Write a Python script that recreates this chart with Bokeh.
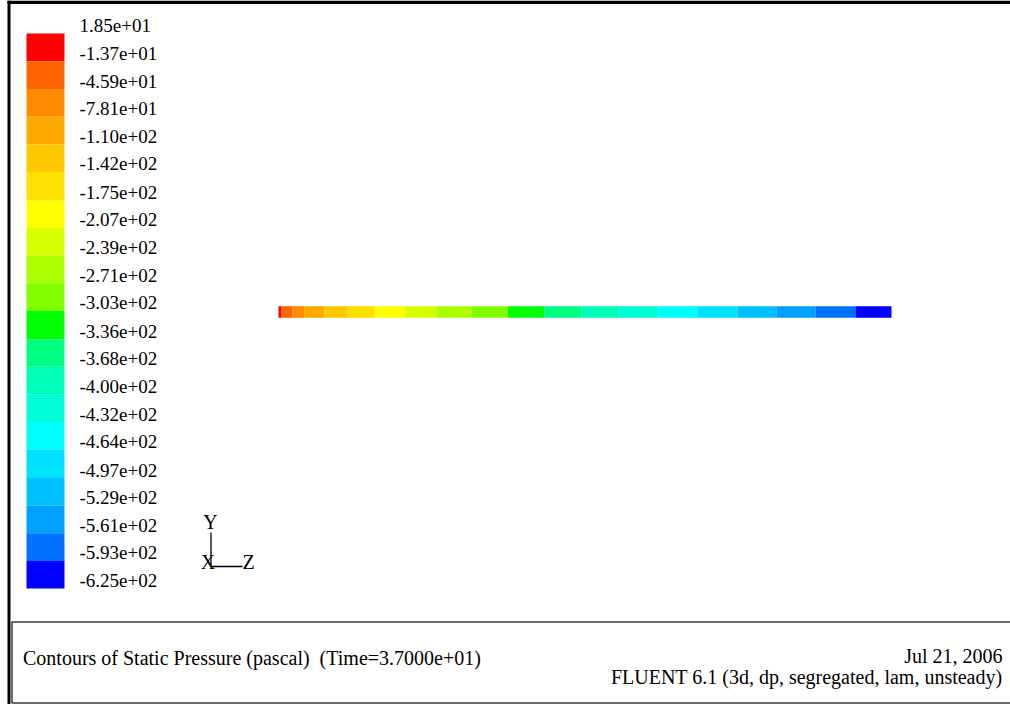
from bokeh.plotting import figure
from bokeh.models import Range1d, ColumnDataSource
from bokeh.transform import linear_cmap
from bokeh.core.properties import value
from bokeh.embed import file_html
from bokeh.resources import INLINE

# ---------------- data ----------------
# contour level boundaries (Pa), top to bottom of the colour scale
levels = [18.5, -13.7, -45.9, -78.1, -110, -142, -175, -207, -239, -271, -303,
          -336, -368, -400, -432, -464, -497, -529, -561, -593, -625]
level_labels = ["1.85e+01", "-1.37e+01", "-4.59e+01", "-7.81e+01", "-1.10e+02",
                "-1.42e+02", "-1.75e+02", "-2.07e+02", "-2.39e+02", "-2.71e+02",
                "-3.03e+02", "-3.36e+02", "-3.68e+02", "-4.00e+02", "-4.32e+02",
                "-4.64e+02", "-4.97e+02", "-5.29e+02", "-5.61e+02", "-5.93e+02",
                "-6.25e+02"]
# Fluent-like palette, lowest pressure first
palette = ["#0000FF", "#0070FF", "#00A0FF", "#00C0FF", "#00E0FF", "#00FFFF",
           "#00FFD8", "#00FFB8", "#00FF80", "#00FF00", "#80FF00", "#AAFF00",
           "#D8FF00", "#FFFF00", "#FFE000", "#FFC800", "#FFAA00", "#FF8C00",
           "#FF6400", "#FF0000"]

# axial stations along the pipe (fraction of pipe length) bounding each contour band
station_z = [0.0, 0.005, 0.023, 0.042, 0.075, 0.113, 0.157, 0.206, 0.258, 0.315,
             0.374, 0.434, 0.494, 0.555, 0.620, 0.684, 0.749, 0.812, 0.876, 0.941, 1.0]
# static pressure (Pa) of each band between stations
segment_pressure = [2, -30, -62, -94, -126, -159, -191, -223, -255, -287,
                    -320, -352, -384, -416, -448, -481, -513, -545, -577, -609]
pipe_diameter = 0.019

title_text = "Contours of Static Pressure (pascal)\u00a0 (Time=3.7000e+01)"
date_text = "Jul 21, 2006"
solver_text = "FLUENT 6.1 (3d, dp, segregated, lam, unsteady)"

# ---------------- layout constants (pixels) ----------------
W, H = 1010, 704
FONT = "Liberation Serif"
pipe_x0_px, pipe_len_px, pipe_cy_px = 278, 613, 311.5
cb_top_px, cb_bot_px = 33, 588
cb_left, cb_right, cb_label_x = 26, 64, 79

p = figure(width=W, height=H, output_backend="svg", toolbar_location=None,
           x_axis_type=None, y_axis_type=None, min_border=0,
           x_range=Range1d(0, W), y_range=Range1d(H, 0),
           outline_line_color=None, background_fill_color="white",
           border_fill_color="white")

# model-space ranges for the pipe (equal aspect)
s = pipe_len_px  # px per unit length
p.extra_x_ranges = {"z": Range1d(-pipe_x0_px / s, (W - pipe_x0_px) / s)}
p.extra_y_ranges = {
    "r": Range1d(-(H - pipe_cy_px) / s, pipe_cy_px / s),
    "cb": Range1d(
        levels[-1] - (H - cb_bot_px) * (levels[0] - levels[-1]) / (cb_bot_px - cb_top_px),
        levels[0] + cb_top_px * (levels[0] - levels[-1]) / (cb_bot_px - cb_top_px)),
}

lo, hi = levels[-1], levels[0]
cmap = linear_cmap("p", palette, low=lo, high=hi)

# pipe contour bands
pipe_src = ColumnDataSource(dict(
    left=station_z[:-1], right=station_z[1:],
    p=segment_pressure))
p.quad(left="left", right="right", bottom=-pipe_diameter / 2, top=pipe_diameter / 2,
       source=pipe_src, fill_color=cmap, line_color=None,
       x_range_name="z", y_range_name="r")

# colour scale
cb_src = ColumnDataSource(dict(
    top=levels[:-1], bottom=levels[1:],
    p=[(a + b) / 2 for a, b in zip(levels[:-1], levels[1:])]))
p.quad(left=cb_left, right=cb_right, top="top", bottom="bottom", source=cb_src,
       fill_color=cmap, line_color=None, y_range_name="cb")
p.text(x=cb_label_x, y=levels, text=level_labels, y_range_name="cb",
       text_font=value(FONT), text_font_size=value("19px"), text_color="black",
       text_align="left", text_baseline="middle", y_offset=-8)

# frame lines
p.quad(left=[7, 7], right=[W, 10], top=[0, 0], bottom=[3.5, H],
       fill_color="black", line_color=None)
# footer box
p.quad(left=11.5, right=W + 5, top=621.5, bottom=702.5, fill_color=None,
       line_color="#3a3a3a", line_width=1.5)

# axes triad
p.line(x=[210.5, 210.5, 242], y=[532, 566, 566], line_color="black", line_width=1.3)
p.text(x=[210, 207.5, 248], y=[521, 561, 561], text=["Y", "X", "Z"],
       text_font=value(FONT), text_font_size=value("20px"), text_color="black",
       text_align="center", text_baseline="middle")

# footer texts
p.text(x=[22.5], y=[657], text=[title_text], text_font=value(FONT),
       text_font_size=value("20px"), text_color="black",
       text_align="left", text_baseline="middle")
p.text(x=[1002, 1002], y=[655, 676], text=[date_text, solver_text], text_font=value(FONT),
       text_font_size=value("20px"), text_color="black",
       text_align="right", text_baseline="middle")

open("out.html", "w").write(file_html(p, INLINE))
